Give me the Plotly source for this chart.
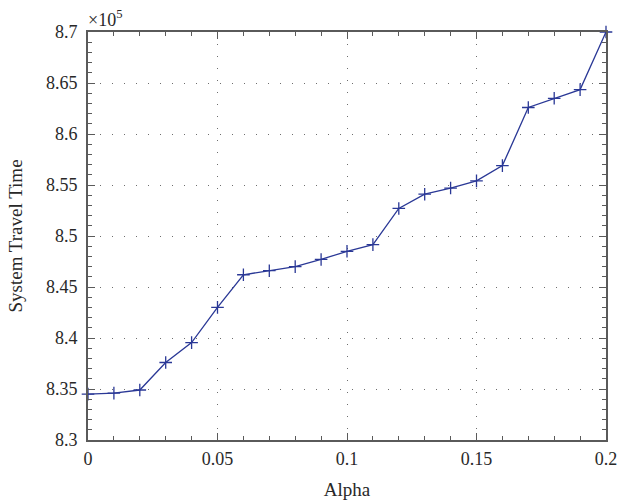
import plotly.graph_objects as go

alpha = [0.00, 0.01, 0.02, 0.03, 0.04, 0.05, 0.06, 0.07, 0.08, 0.09, 0.10,
         0.11, 0.12, 0.13, 0.14, 0.15, 0.16, 0.17, 0.18, 0.19, 0.20]
travel_time = [8.345, 8.346, 8.349, 8.376, 8.3955, 8.430, 8.462, 8.466, 8.470, 8.477, 8.485,
               8.4915, 8.527, 8.541, 8.547, 8.554, 8.569, 8.626, 8.635, 8.6435, 8.700]
x_ticks = [0, 0.05, 0.1, 0.15, 0.2]
x_labels = ["0", "0.05", "0.1", "0.15", "0.2"]
y_ticks = [8.3, 8.35, 8.4, 8.45, 8.5, 8.55, 8.6, 8.65, 8.7]
y_labels = ["8.3", "8.35", "8.4", "8.45", "8.5", "8.55", "8.6", "8.65", "8.7"]

FONT = "Liberation Serif"
TXT = "rgb(40,40,40)"
line_col = "rgb(42,56,150)"
axis_col = "rgb(90,90,90)"

fig = go.Figure()
fig.add_trace(go.Scatter(
    x=alpha, y=travel_time, mode="lines+markers",
    line=dict(color=line_col, width=1.3),
    marker=dict(symbol="cross-thin", size=9, line=dict(color=line_col, width=1.3)),
    showlegend=False, cliponaxis=False,
))

axis_common = dict(
    showline=True, linecolor=axis_col, linewidth=1.6, mirror="ticks",
    ticks="inside", ticklen=7, tickcolor=axis_col, tickwidth=1,
    showgrid=True, gridcolor="rgb(110,110,110)", gridwidth=1, griddash="1px,11px",
    zeroline=False, automargin=False,
    tickfont=dict(family=FONT, size=18, color=TXT),
)

fig.update_xaxes(
    range=[0, 0.2], tickvals=x_ticks, ticktext=x_labels,
    title=dict(text="Alpha", font=dict(family=FONT, size=19, color=TXT), standoff=14),
    minor=dict(dtick=0.01, ticks="inside", ticklen=4, tickcolor=axis_col, showgrid=False),
    ticklabelstandoff=2,
    **axis_common,
)
fig.update_yaxes(
    range=[8.3, 8.7], tickvals=y_ticks, ticktext=y_labels,
    title=dict(text="System Travel Time", font=dict(family=FONT, size=19, color=TXT), standoff=18),
    minor=dict(dtick=0.01, ticks="inside", ticklen=4, tickcolor=axis_col, showgrid=False),
    ticklabelstandoff=5,
    **axis_common,
)

fig.add_annotation(
    x=0, y=1, xref="paper", yref="paper", xanchor="left", yanchor="bottom",
    text="×10<sup>5</sup>", showarrow=False, xshift=-2, yshift=0,
    font=dict(family=FONT, size=18, color=TXT),
)

fig.update_layout(
    width=620, height=503,
    margin=dict(l=88, r=14, t=32, b=63),
    paper_bgcolor="white", plot_bgcolor="white",
    font=dict(family=FONT),
)

fig.write_html("out.html", config={"displayModeBar": False},
               post_script="document.body.style.margin='0';")
